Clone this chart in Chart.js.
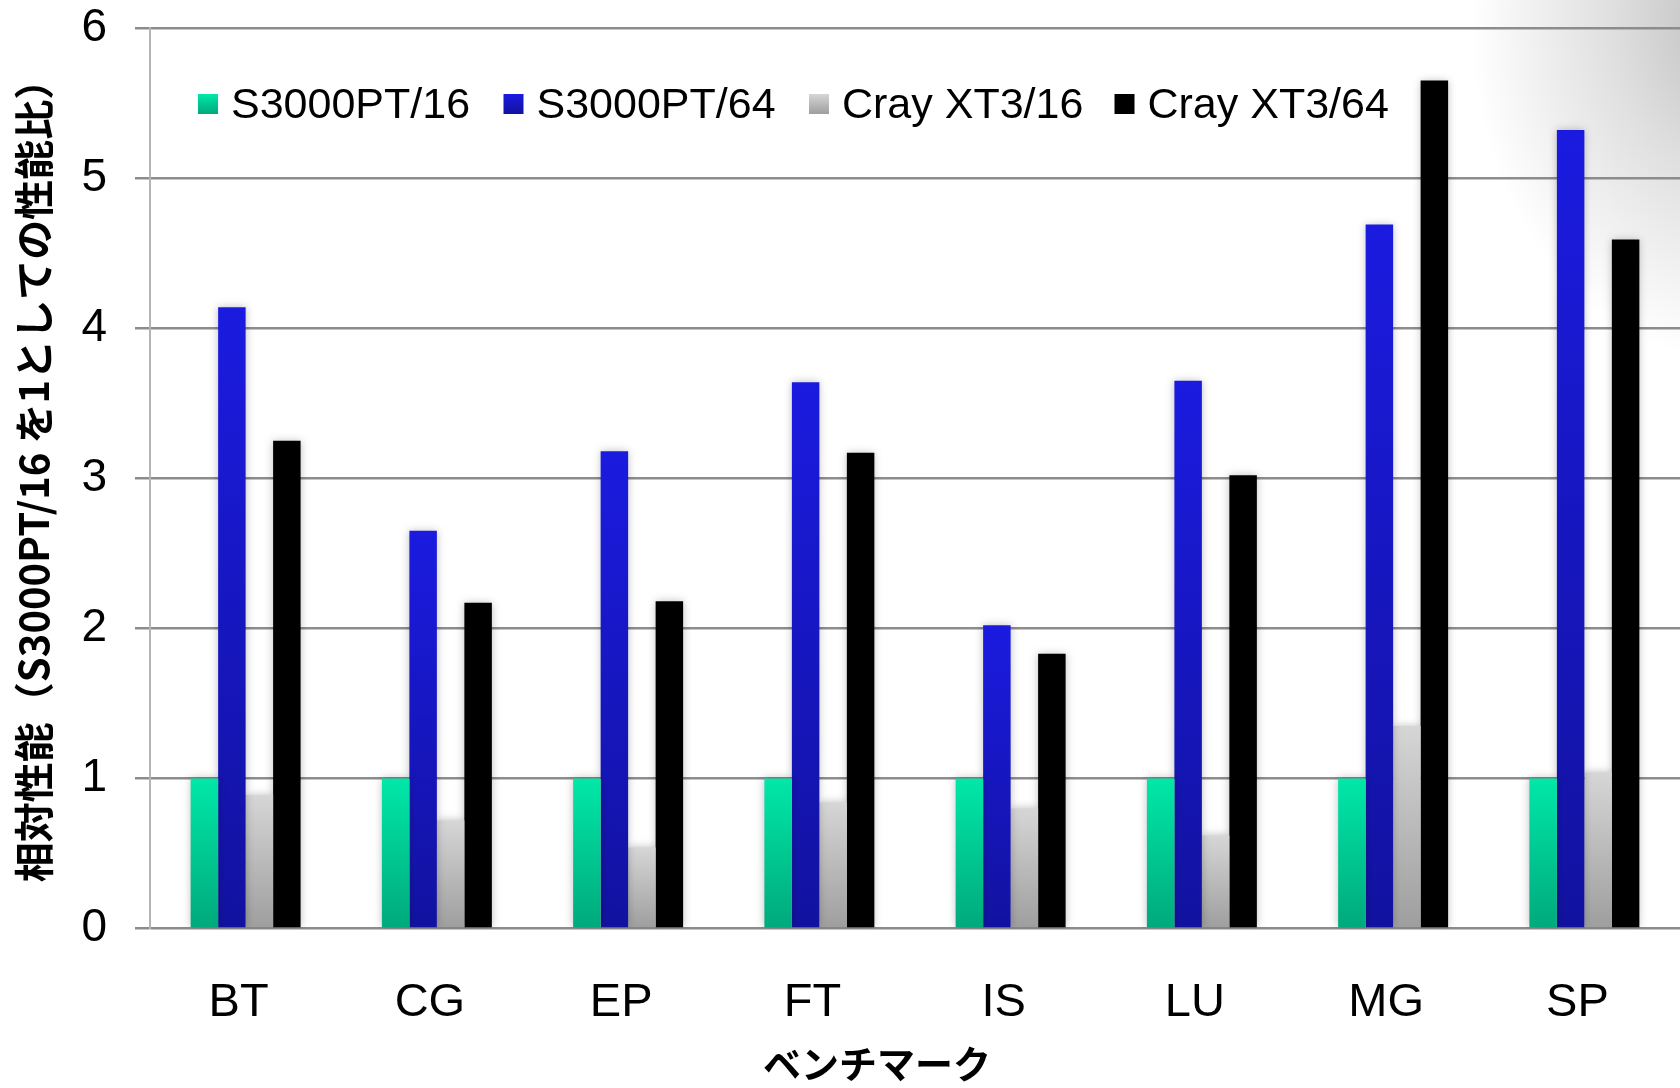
<!DOCTYPE html>
<html>
<head>
<meta charset="utf-8">
<script src="https://cdn.jsdelivr.net/npm/chart.js@4.4.1/dist/chart.umd.min.js"></script>
<style>
  html, body { margin: 0; padding: 0; background: #ffffff; }
  #wrap { position: relative; width: 1680px; height: 1088px; overflow: hidden; }
  #corner {
    position: absolute; left: 0; top: 0; width: 1680px; height: 1088px;
    background: radial-gradient(ellipse 260px 340px at 1730px 20px, rgba(190,190,190,1) 0%, rgba(215,215,215,0.8) 45%, rgba(255,255,255,0) 100%);
  }
  canvas { position: absolute; left: 0; top: 0; }
</style>
</head>
<body>
<div id="wrap">
  <div id="corner"></div>
  <canvas id="chart" width="1680" height="1088"></canvas>
</div>
<script>
// Benchmarks (NAS Parallel Benchmarks) on the category axis
const categories = ['BT', 'CG', 'EP', 'FT', 'IS', 'LU', 'MG', 'SP'];

// Relative performance, normalised to S3000PT with 16 processes
const s3000pt16 = [1, 1, 1, 1, 1, 1, 1, 1];
const s3000pt64 = [4.14, 2.65, 3.18, 3.64, 2.02, 3.65, 4.69, 5.32];
const crayXt3_16 = [0.89, 0.72, 0.54, 0.84, 0.80, 0.62, 1.35, 1.04];
const crayXt3_64 = [3.25, 2.17, 2.18, 3.17, 1.83, 3.02, 5.65, 4.59];

const seriesNames = ['S3000PT/16', 'S3000PT/64', 'Cray XT3/16', 'Cray XT3/64'];
const yTicks = [0, 1, 2, 3, 4, 5, 6];

const yTitle = '相対性能（S3000PT/16 を1としての性能比）';
const xTitle = 'ベンチマーク';

const LATIN = '"Liberation Sans", Arial, sans-serif';
const CJK = '"Noto Sans CJK JP", "Noto Sans", sans-serif';

// vertical colour ramps, top colour first
const ramps = [
  ['#00e8a8', '#00a97b'],
  ['#1b1be0', '#1212a0'],
  ['#d6d6d6', '#9e9e9e'],
  ['#000000', '#000000']
];

function barFill(idx) {
  return (ctx) => {
    const chart = ctx.chart;
    if (ctx.type !== 'data' || !chart.chartArea) return ramps[idx][0];
    const y = chart.scales.y;
    const top = y.getPixelForValue(ctx.raw);
    const bottom = y.getPixelForValue(0);
    if (!isFinite(top) || Math.abs(bottom - top) < 1) return ramps[idx][0];
    const g = chart.ctx.createLinearGradient(0, top, 0, bottom);
    g.addColorStop(0, ramps[idx][0]);
    g.addColorStop(1, ramps[idx][1]);
    return g;
  };
}

function legendFill(ctx2d, idx, x, y, s) {
  const g = ctx2d.createLinearGradient(0, y, 0, y + s);
  g.addColorStop(0, ramps[idx][0]);
  g.addColorStop(1, ramps[idx][1]);
  return g;
}

const seriesData = [s3000pt16, s3000pt64, crayXt3_16, crayXt3_64];

const datasets = seriesNames.map((name, i) => ({
  label: name,
  data: seriesData[i],
  backgroundColor: barFill(i),
  borderWidth: 0,
  barPercentage: 1.0,
  categoryPercentage: 0.575
}));

// soft drop shadow around the bars
const barShadow = {
  id: 'barShadow',
  beforeDatasetsDraw(chart) {
    const c = chart.ctx;
    c.save();
    c.shadowColor = 'rgba(0,0,0,0.25)';
    c.shadowBlur = 8;
    c.shadowOffsetX = 0;
    c.shadowOffsetY = 0;
  },
  afterDatasetsDraw(chart) {
    chart.ctx.restore();
  }
};

// legend row inside the plot area plus the two axis titles
const overlay = {
  id: 'overlay',
  afterDraw(chart) {
    const c = chart.ctx;
    c.save();
    // legend
    const box = 20;
    const startX = 198, step = 305.5, cy = 104;
    c.font = '43px ' + LATIN;
    c.textBaseline = 'middle';
    c.textAlign = 'left';
    chart.data.datasets.forEach((ds, i) => {
      const x = startX + i * step;
      c.fillStyle = legendFill(c, i, x, cy - box / 2, box);
      c.fillRect(x, cy - box / 2, box, box);
      c.fillStyle = '#000';
      c.fillText(ds.label, x + box + 13, cy + 2);
    });
    // x axis title
    c.font = 'bold 38px ' + CJK;
    c.textAlign = 'center';
    c.textBaseline = 'middle';
    c.fillText(xTitle, 877, 1064);
    // y axis title
    c.translate(34, 471);
    c.rotate(-Math.PI / 2);
    c.font = 'bold 40px ' + CJK;
    c.fillText(yTitle, 0, 0);
    c.restore();
  }
};

new Chart(document.getElementById('chart'), {
  type: 'bar',
  data: { labels: categories, datasets },
  plugins: [barShadow, overlay],
  options: {
    responsive: false,
    animation: false,
    layout: { padding: { top: 28, right: 0, left: 0, bottom: 0 } },
    plugins: {
      legend: { display: false },
      tooltip: { enabled: false }
    },
    scales: {
      x: {
        grid: { display: false, drawTicks: false },
        border: { display: false },
        ticks: {
          color: '#000',
          padding: 46,
          labelOffset: -7,
          font: { family: LATIN, size: 47 }
        },
        afterFit(scale) {
          scale.height = 159.5;
          scale.paddingLeft = 0;
          scale.paddingRight = 0;
        }
      },
      y: {
        min: 0,
        max: 6,
        afterBuildTicks(scale) { scale.ticks = yTicks.map(v => ({ value: v })); },
        grid: {
          color: '#8c8c8c',
          lineWidth: 2.5,
          tickLength: 15,
          tickColor: '#8c8c8c'
        },
        border: { display: true, color: '#b4b4b4', width: 2 },
        ticks: {
          color: '#000',
          padding: 28,
          font: { family: LATIN, size: 46 }
        },
        afterFit(scale) {
          scale.width = 150;
          scale.paddingTop = 0;
          scale.paddingBottom = 0;
        }
      }
    }
  }
});
</script>
</body>
</html>
